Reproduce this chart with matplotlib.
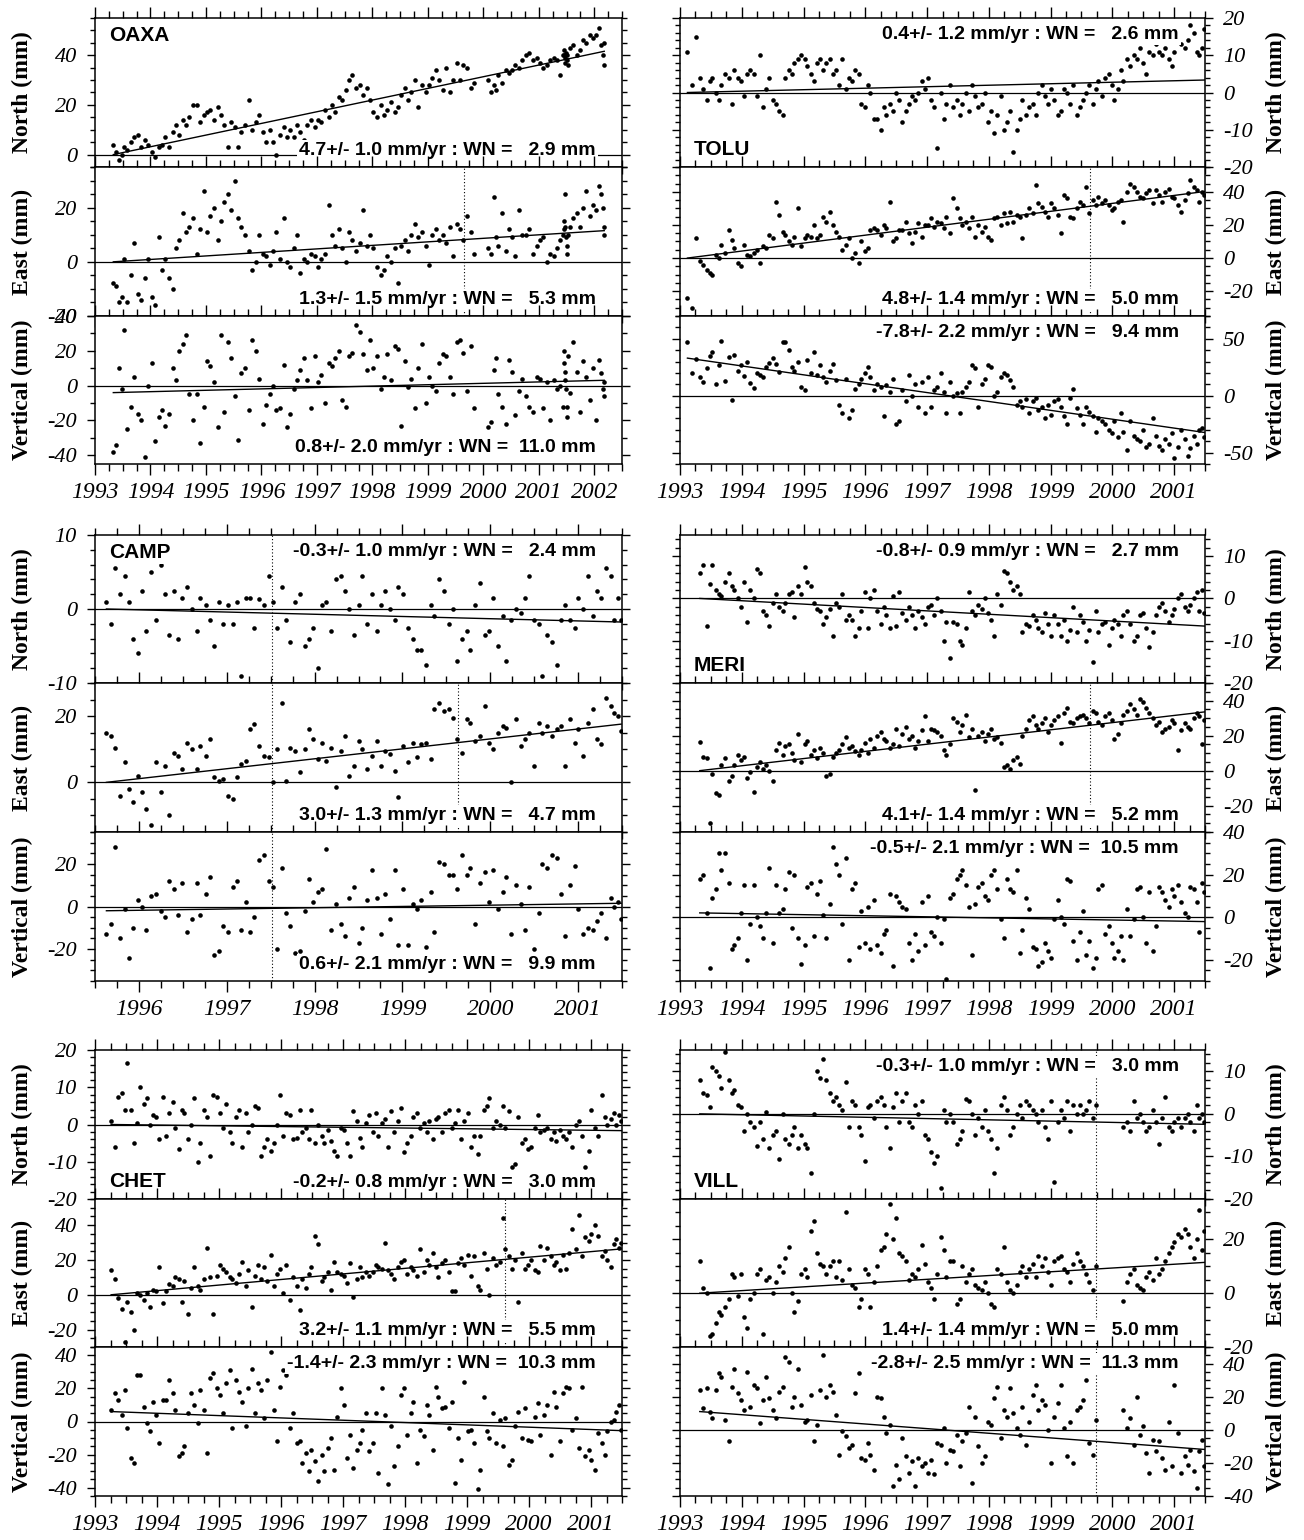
import numpy as np
import matplotlib.pyplot as plt
from matplotlib.ticker import MultipleLocator, FormatStrFormatter

plt.rcParams['font.family'] = ['Liberation Serif', 'DejaVu Serif']
plt.rcParams['font.style'] = 'italic'
plt.rcParams['axes.unicode_minus'] = False

nan = np.nan

# ---------------- OAXA (own epochs) ----------------
oaxa_t = [1993.33, 1993.38, 1993.43, 1993.48, 1993.53, 1993.58, 1993.64, 1993.70,
          1993.77, 1993.83, 1993.90, 1993.96, 1994.02, 1994.08, 1994.15, 1994.21,
          1994.27, 1994.33, 1994.40, 1994.46, 1994.52, 1994.58, 1994.64, 1994.70,
          1994.77, 1994.83, 1994.90, 1994.96, 1995.02, 1995.08, 1995.15, 1995.21,
          1995.27, 1995.33, 1995.40, 1995.46, 1995.52, 1995.58, 1995.64, 1995.70,
          1995.77, 1995.83, 1995.90, 1995.96, 1996.02, 1996.08, 1996.15, 1996.21,
          1996.27, 1996.33, 1996.40, 1996.46, 1996.52, 1996.58, 1996.64, 1996.70,
          1996.77, 1996.83, 1996.90, 1996.96, 1997.02, 1997.08, 1997.15, 1997.21,
          1997.27, 1997.33, 1997.40, 1997.46, 1997.52, 1997.58, 1997.64, 1997.70,
          1997.77, 1997.83, 1997.90, 1997.96, 1998.02, 1998.08, 1998.15, 1998.21,
          1998.27, 1998.33, 1998.40, 1998.46, 1998.52, 1998.58, 1998.64, 1998.70,
          1998.77, 1998.83, 1998.90, 1998.96, 1999.02, 1999.08, 1999.15, 1999.21,
          1999.27, 1999.33, 1999.40, 1999.46, 1999.52, 1999.58, 1999.64, 1999.70,
          1999.77, 1999.83,
          2000.08, 2000.13, 2000.19, 2000.23, 2000.27, 2000.33, 2000.40, 2000.46,
          2000.52, 2000.58, 2000.64, 2000.70, 2000.77, 2000.83, 2000.90, 2000.96,
          2001.02, 2001.08, 2001.15, 2001.21, 2001.27, 2001.33, 2001.38, 2001.43,
          2001.45, 2001.46, 2001.47, 2001.48, 2001.49, 2001.50, 2001.51, 2001.52,
          2001.56, 2001.62, 2001.68, 2001.74, 2001.80, 2001.86, 2001.92, 2001.97,
          2002.03, 2002.08, 2002.12, 2002.15, 2002.17, 2002.18]
oaxa_n = [4, 1, -2, 0, 3, 2, 5, 7, 8, 3, 6, 4, 1, -1, 3, 4,
          7, 3, 9, 12, 8, 14, 12, 15, 20, 20, 13, 16, 17, 18, 14, 19,
          16, 12, 3, 13, 11, 3, 9, 12, 22, 10, 13, 16, 9, 5, 10, 5,
          0, 8, 11, 7, 10, 7, 12, 9, 6, 12, 14, 11, 14, 13, 18, 15,
          20, 17, 23, 22, 26, 30, 32, 27, 28, 24, 27, 22, 17, 15, 20, 16,
          18, 21, 17, 19, 24, 27, 22, 25, 30, 19, 28, 25, 28, 31, 34, 30,
          26, 35, 25, 30, 37, 30, 36, 35,
          27, 29,
          30, 25, 28, 26, 32, 29, 34, 33, 34, 36, 35, 38, 40, 41, 38, 39,
          37, 35, 36, 38, 39, 38, 32, 40,
          42, 40, 37, 39, 41, 38, 40, 36,
          43, 44, 40, 42, 46, 45, 48, 47,
          48, 51, 44, 40, 36, 45]
oaxa_e = [-8, -9, -15, -13, 1, -15, -5, 7, -12, -14, -6, 1, -13, -16, 9, -3,
          1, -6, -10, 5, 8, 18, 11, 13, 16, 3, 12, 26, 11, 17, 20, 8,
          15, 22, 25, 19, 30, 16, 13, 10, 4, -3, 0, 10, 3, 2, -1, 4,
          11, 1, 16, 0, -2, 5, 10, -4, 1, 0, 3, 2, -2, 1, 3, 21,
          10, 6, 12, 5, 0, 11, 8, 4, 7, 19, 6, 10, 5, -2, -5, -3,
          2, 0, 5, -8, 6, 8, 4, 10, 14, 9, 11, 6, -1, 10, 12, 8,
          10, 7, 13, 2, 14, 12, 8, 17,
          11, 3,
          5, 3, 24, 9, 6, 18, 4, 12, 9, 2, 19, 10, 10, 12, 3, 6,
          8, 9, 0, 3, 2, 5, 8, 10,
          12, 15, 25, 13, 9, 3, 6, 10,
          13, 16, 18, 13, 20, 26, 17, 21,
          19, 28, 25, 20, 13, 10]
oaxa_u = [-38, -34, 10, -2, 32, -25, -12, 5, -16, -20, -41, 0, 13, -32, -18, -14,
          -23, -16, 10, 3, 20, 24, 29, -5, -20, -5, -33, -12, 14, 11, 2, -24,
          29, -15, 25, 16, -6, -31, 7, 10, -14, 26, 20, 4, -22, -11, -5, 0,
          -14, -13, 12, -24, -16, -2, 3, 9, 16, 3, -13, 17, 2, 6, -10, 13,
          11, 16, 20, -8, -12, 17, 19, 35, 31, 18, 9, 26, 10, 17, -2, 5,
          18, 3, 23, 21, -23, 14, -1, 4, -13, 10, 24, -10, 5, 0, -3, 13,
          18, 17, 5, -5, 25, 26, 19, -3,
          23, -13,
          -24, -21, 9, 16, -5, -12, -22, 15, 8, -17, -3, 4, -6, -12, -15, 5,
          4, -13, 2, -20, 3, -2, 0, -12,
          20, 13, 8, 3, -2, -12, -18, 17,
          -4, 25, 8, -15, 14, 5, -8, 10,
          -20, 15, 7, -2, -6, 2]

# ---------------- common epochs for TOLU, MERI, CHET, VILL, CAMP ----------------
t_full = [1993.12, 1993.19, 1993.26,
          1993.32, 1993.37, 1993.43, 1993.48, 1993.52, 1993.58, 1993.63, 1993.67,
          1993.73, 1993.79, 1993.84, 1993.88, 1993.94, 1993.99, 1994.04, 1994.09,
          1994.14, 1994.20, 1994.25, 1994.29, 1994.35, 1994.40, 1994.44, 1994.50,
          1994.55, 1994.60, 1994.66, 1994.70, 1994.76, 1994.81, 1994.85, 1994.91,
          1994.96, 1995.02, 1995.06, 1995.12, 1995.17, 1995.21, 1995.27, 1995.32,
          1995.37, 1995.43, 1995.47, 1995.53, 1995.58, 1995.63, 1995.68, 1995.73,
          1995.78, 1995.84, 1995.89, 1995.93, 1995.99, 1996.04, 1996.08, 1996.14,
          1996.19, 1996.25, 1996.30, 1996.34, 1996.40, 1996.45, 1996.49, 1996.55,
          1996.60, 1996.66, 1996.70, 1996.76, 1996.81, 1996.85, 1996.91, 1996.96,
          1997.01, 1997.07, 1997.12, 1997.16, 1997.22, 1997.27, 1997.31, 1997.37,
          1997.42, 1997.48, 1997.53, 1997.57, 1997.63, 1997.68, 1997.72, 1997.78,
          1997.83, 1997.89, 1997.94, 1997.98, 1998.04, 1998.09, 1998.13, 1998.19,
          1998.24, 1998.30, 1998.35, 1998.39, 1998.45, 1998.50, 1998.54, 1998.60,
          1998.65, 1998.71, 1998.76, 1998.80, 1998.86, 1998.91, 1998.95, 1999.01,
          1999.06, 1999.12, 1999.17, 1999.21, 1999.27, 1999.32, 1999.36, 1999.42,
          1999.47, 1999.53, 1999.58, 1999.62, 1999.68, 1999.73, 1999.77, 1999.83,
          1999.88, 1999.94, 1999.99, 2000.03, 2000.09, 2000.14, 2000.18, 2000.24,
          2000.29, 2000.35, 2000.40, 2000.44, 2000.50, 2000.55, 2000.59, 2000.65,
          2000.70, 2000.76, 2000.81, 2000.85, 2000.91, 2000.96, 2001.00, 2001.06,
          2001.11, 2001.17, 2001.22, 2001.26, 2001.32, 2001.37, 2001.41, 2001.45, 2001.49]

tolu_n = [11, 2, 15,
          4, 1, -2, 3, 4, 0, -2, 2,  5, 4, -3, 6, 4, 3, -1, 5,
          6, 5, -1, 10, -4, 1, 4, -2,  -3, -5, -6, 4, 6, 5, 8, 9,
          10, 9, 7, 5, 3, 8, 9, 6,  8, 9, 5, 6, 2, 9, 1, 4,
          3, 6, 5, -3, -4, 2, 0, -7,  -7, -10, -4, -6, -3, -5, 0, -2,
          -8, -5, -3, -1, -2, 0, 3, 1,  4, -2, -4, -15, 0, -7, -3, 2,
          -4, -2, -6, -3, 0, -5, 2, -1,  -4, -3, 0, -8, -5, -11, -6, -1,
          -10, -8, -5, -16, -10, -7, -2, -6,  -4, -3, -6, 0, 2, -1, -3, 1,
          -2, -6, -5, 1, 0, -3, 2, -6,  -4, -2, 0, 2, -3, 1, 3, -1,
          4, 5, 2, -2, 1, 6, 3, 9,  7, 10, 9, 12, 8, 5, 11, 10,
          13, 11, 10, 12, 9, 7, 11, 14,  13, 12, 14, 18, 16, 11, 10, 12, 17]
tolu_e = [-24, -30, 12,
          -2, -4, -7, -9, -10, 2, 0, 8,  3, 17, 11, 6, -3, -5, 8, 2,
          1, 3, 5, -3, 7, 6, 14, 12,  34, 26, 16, 14, 10, 8, 13, 30,
          7, 12, 14, 13, 20, 12, 14, 25,  22, 28, 20, 16, 13, 5, 8, 12,
          0, 3, -3, 10, 4, 6, 17, 18,  17, 14, 20, 18, 34, 10, 12, 17,
          17, 22, 15, 9, 16, 21, 13, 20,  20, 24, 19, 22, 21, 18, 25, 15,
          36, 30, 24, 20, 22, 18, 25, 13,  20, 16, 19, 13, 11, 24, 25, 20,
          27, 21, 28, 22, 26, 25, 12, 26,  30, 27, 44, 33, 31, 28, 25, 33,
          30, 26, 15, 38, 36, 25, 24, 30,  34, 32, 43, 27, 35, 32, 37, 33,
          35, 32, 29, 30, 34, 35, 22, 40,  45, 43, 40, 37, 36, 39, 41, 33,
          41, 38, 34, 40, 42, 37, 36, 32,  28, 35, 39, 47, 43, 41, 34, 40, 38]
tolu_u = [47, 20, 32,
          16, 12, 24, 35, 38, 10, 27, 48,  13, 34, -4, 36, 22, 27, 17, 30,
          11, 7, 20, 18, 16, 25, 29, 33,  28, 21, 47, 47, 40, 25, 22, 30,
          8, 5, 31, 20, 38, 18, 27, 16,  12, 22, 28, 14, -8, -15, 15, -20,
          -13, 6, 10, 15, 20, 25, 16, 5,  10, 8, -18, 9, 3, 15, -25, -22,
          5, -5, 18, 0, 10, -10, 12, -15,  16, -10, 5, 8, 20, 3, -15, 12,
          0, 2, -15, 3, 8, 12, 27, 24,  -10, 10, 15, 27, 25, 0, 3, 16,
          20, 18, 14, 8, -8, -5, -10, -3,  -15, -5, -2, -13, -10, -20, -8, -17,
          -5, -3, -10, -18, -25, -2, 6, -11,  -17, -25, -10, -14, -18, -32, -20, -22,
          -25, -30, -33, -22, -36, -15, -32, -48,  -22, -35, -38, -40, -30, -45, -42, -20,
          -35, -44, -48, -38, -42, -33, -55, -45,  -30, -38, -53, -46, -35, -42, -30, -28, -36]

meri_n = [nan, nan, nan,
          6, 8, -6.5, 3.5, 8, 2, 1, 0.5,  4, 6, 3, 2, 0, -2, 4, -5.5,
          2, 0, 7, 6, -3, -4, -6.5, -1,  1, -2, -3, -1, 1, 1.5, -4.5, 3,
          1, 7.5, 4, 3, -1, -2.5, -3, -6,  -4.5, -2.5, -9, -1, -2, 1, -5, -4,
          -5, -9, -7, -3, 1.5, -7, 0, 2,  -3, -6, -2, -4, -7, 0.5, -6.5, 1.5,
          -3.5, -5, -2, -4, -7, -3, -4.5, -6,  -2, -1.5, -4, 0, -3, -10, -5.5, -14,
          -5.5, -6, -10, -11, -7, 1.5, -3, -4,  -1.5, -2.5, 0, -3.5, -5, -9, 1, -1.5,
          6.5, 6, 4, 2, 3, 1, -8, -6,  -6.5, -4, -5, -7, -8, -3.5, -6, -9,
          -4, -6, -9, -5, -10, -7.5, -2, -8,  -4, -5.5, -10, -7.5, -15, -3, -8, -6,
          -5.5, -11, -7, -5, -6, -9, -4, -3,  -6, -10, -9, -4, -3.5, -7, -11.5, -8,
          -4, -2, -1, -3, -5.5, -4, -2.5, 0,  1, -2, -3, -1.5, 0, 1.5, -3, 2, -3.5]
meri_e = [nan, nan, nan,
          16.5, 8, 7, -30, -2, -13, -14, 3,  7, -6, -3, 3, 9, 6, 8, -4,
          -1, -12, 2, 5, 1, 3, 0, -6,  12, 16, 9, 14, 15, 10, 6, 21,
          5, 15, 17, 9, 12, 7, 13, 10,  -3, -2, 8, 10, 12, 15, 19, 13,
          14, 11, 9, 12, 16, 10, 18, 13,  20, 22, 18, 17, 13, 15, 24, 14,
          21, 25, 18, 20, 13, 17, 23, 31,  17, 24, 23, 22, 20, 12, 9, 15,
          30, 28, 22, 26, 32, 19, 24, -11,  20, 22, 17, 21, 24, 18, 19, 16,
          2, 3, 1, 6, 8, 4, 20, 24,  29, 31, 26, 24, 27, 30, 22, 26,
          29, 31, 16, 33, 36, 28, 27, 30,  31, 32, 30, 27, 34, 33, 28, 26,
          31, 33, 29, 18, 21, 27, 32, 34,  38, 35, 32, 41, 39, 36, 33, 30,
          26, 28, 22, 24, 25, 29, 27, 12,  23, 27, 25, 24, 30, 33, 31, 15, 29]
meri_u = [nan, nan, nan,
          18, 20, 2, -24, 9, 13, 30, 22,  30, 16, -15, -13, -10, 2, 15, -20,
          -3, 15, 0, -4, -10, 2, 23, -12,  15, 2, 4, 13, 21, -5, 20, -10,
          -22, -13, 14, 16, -9, 11, 17, 1,  -10, 6, 33, 25, 20, -3, 28, -20,
          13, 16, -14, 3, -12, 5, -15, 8,  -13, -17, -8, -6, 11, -23, 10, 7,
          5, 4, -12, -20, -8, -16, 7, -13,  10, -7, -9, 0, -12, -1, -29, 9,
          11, 18, 20, 22, 15, 5, -18, 6,  14, 16, 10, 8, 20, 22, 13, -1,
          -10, 18, 13, 12, 22, -17, -6, 9,  4, -14, -15, -23, -21, -12, -16, -19,
          -1, 8, 0, -3, 18, 17, -11, -20,  -7, 3, -18, -11, -24, -19, 13, 15,
          -8, -4, -12, -19, -16, -9, -20, 4,  -9, -1, 13, 14, 0, -12, 12, -16,
          -4, 14, 12, 8, 5, 13, 10, 15,  7, 2, 0, 14, 13, 7, -7, 16, 12]

chet_n = [nan, nan, 1,
          -6, 7.5, 8.5, 4, 16.5, 4, -5, 0.5,  10, 5.5, 7, 0, 2.5, 2, -4, 7.5,
          -3, 3, 6, -1, -6.5, 4, 3, -4,  0, 7, -10, -5, 4, 2, -8.5, 8,
          7.5, 3, -1, 5.5, -2, -5, 2, 4,  -6, 3, -2, 0, 5, 4.5, -8.5, -6,
          -4, -7, -5, 0, 8, -3, 3, 2.5,  -4, -3.5, 4, -2, -1, -4, 4, -5,
          0, -3, -5, -1.5, -4.5, -7, -8.5, -1,  -1.5, -5, -8.5, 3.5, 1, -3.5, -6, 0.5,
          2.5, -2, 3, -3, 0.5, 1.5, -6, 3.5,  -2, 1, 4.5, -7.5, -5, -3, 2, 3,
          -1, 0.5, -2, 1, -4, 1.5, 2, -2,  3, 4, -1, 0.5, 4, -4, 1, 3,
          -6, -3, -8, -3, 4, 5, 7, -1,  1, 0, 5, -1, 3.5, -11.5, -10.5, 2,
          -5, -4, -6.5, -6, -1, 2.5, -2, -1.5,  -1, -4, -2, -4.5, -1.5, -3, -4, -2,
          -6, 0, 1, -3, -11.5, -7, 4, -1,  -3, 8, 2, 0, 1.5, 3, 0, 2.5, 1]
chet_e = [nan, nan, 14,
          9, -2, -8, -27, -4, -10, -20, 1,  0, -3, 1, -7, 3, 2, 16, -5,
          2, 6, 5, 10, 9, -4, 8, -11,  4, 16, 5, 3, 9, 27, 10, -11,
          11, 17, 15, 13, 10, 9, 7, 12,  19, 5, 14, -7, 11, 17, 9, 16,
          8, 23, 5, 12, 15, 1, 17, -3,  10, 5, -9, 9, 4, 12, 16, 34,
          29, 8, 10, 13, 3, 19, 13, 12,  11, 7, 18, -1, 9, 16, 10, 13,
          11, 13, 17, 16, 15, 30, 14, 12,  9, 16, 19, 20, 12, 16, 14, 11,
          26, 13, 20, 17, 24, 16, 10, 18,  20, 13, 2, 2, 18, 21, 17, 23,
          11, 22, 5, 3, 24, 15, 0, 21,  17, 19, 44, 26, 22, 15, 20, -4,
          24, 15, 17, 20, 14, 13, 28, 20,  27, 22, 17, 19, 14, 23, 15, 24,
          38, 26, 46, 22, 33, 31, 35, 40,  34, 22, 25, 20, 16, 29, 32, 27, 30]
chet_u = [nan, nan, 7,
          17, 13, 4, 19, -4, -22, -25, 28,  28, 9, -1, -6, 12, 4, -13, 13,
          13, 25, 17, 7, -21, -19, -15, 5,  17, 10, -1, 19, 7, -19, 26, 29,
          20, 16, 5, 23, 31, -4, 25, 18,  12, -3, 20, 32, 5, 23, 19, 2,
          25, 42, 7, -12, 21, 31, 28, -4,  5, -13, -12, -25, -19, -30, -17, -24,
          -36, -20, -30, -16, -10, -29, 3, 20,  10, -22, -8, -28, -17, -13, -5, 5,
          -18, -13, 5, -31, 20, 4, -38, -3,  -27, -15, 16, 20, -8, 5, 12, -25,
          -5, -9, 10, 4, -17, 21, 15, 8,  9, -4, 12, -37, -10, -23, 24, -6,
          -5, -13, -41, -29, 15, -6, -10, 5,  -13, 1, -15, 2, -26, -23, -3, 6,
          -10, 8, -11, -12, 3, 11, -8, 4,  10, -20, 18, 9, -12, 17, 21, 20,
          -5, 2, -16, 21, -21, -17, -23, -29,  -7, -13, -20, -6, 0, 1, 6, 10, -5]

vill_n = [nan, nan, nan,
          8, 5, 4.5, 1.5, 11, 10, 9, 6,  14.5, 8, 5, 5.5, 2, 1.5, -4, 0,
          -2, -3, -7.5, -2, -6, 0.5, -8, -5,  -4, -10.5, 0, -6, -7, -5, -3, -8,
          -5, -7, -8, -14, 0, 10, 8.5, 13,  8, 5, 3, 4, 2, 1, 7.5, -3,
          3, 2, -3, -5, -11, 1.5, 2, -1,  3, 4, 2, -3, -8, 1.5, 5, -2,
          3, 5, -2, -3, 2, 0, 3, -5,  -6, -9, -11.5, -10, -17.5, 1, -2, 0,
          -2, -7, -6, -4, 3.5, 3, 0, -5,  -1, -3, 1, -4, -6, -14, -8, 2,
          4, 1, -5, -3, 0, 2, -1, 3,  2, 1, 0, -2, 1, -3, -6, 3,
          -16, -2, 1, -1, 3, -4, 2, 0,  2, 0, 1, 3, -1, 2, nan, nan,
          nan, nan, nan, nan, nan, nan, -3, -2,  -4, 3, -1, 0, -2, -4, -3, 1,
          -2, -7, -1, 4, -3, -4, -2, -1,  -3, -1, 0, -2, -4, 2, -1, 0, -2]
vill_e = [nan, nan, nan,
          12, 2, 0, -16, -15, -11, -7, -8,  -5, -2, 7, 6, -1, 7, -9, -13,
          -2, 0, 7, 9, -15, 5, 6, 0,  4, 10, 8, 13, 17, 0, -7, -3,
          7, 9, 6, 23, 27, 15, 11, 10,  7, 10, 12, 6, 12, 5, 30, 9,
          3, 2, -5, -2, 9, 7, -5, 4,  10, 16, 17, 22, 33, 20, 28, 15,
          14, 12, 5, 7, 6, 9, 18, 11,  4, 2, -2, 7, 21, 16, 6, 12,
          12, -4, -2, 10, 4, 7, 9, 3,  2, 1, 4, 0, -4, -5, 9, 7,
          17, 4, 1, 0, 3, 8, 10, 6,  9, 11, 6, 14, 10, 13, 8, 3,
          12, 13, 14, 9, 8, 4, 11, 15,  12, 10, 7, 4, 1, 10, nan, nan,
          nan, nan, nan, nan, nan, nan, -3, 4,  7, 9, 3, 2, 1, 6, 8, 5,
          13, 7, 9, 12, 15, 17, 19, 22,  21, 24, 22, 17, 13, 20, 31, 16, 23]
vill_u = [nan, nan, nan,
          24, 13, 25, 11, 7, 24, 34, 32,  6, -7, 26, 37, 22, 18, 12, 35,
          14, 27, 25, 4, 18, 32, 19, 12,  7, 23, 26, 44, 41, 14, 20, 37,
          15, 5, 6, 21, -7, 3, 24, 45,  20, 27, 23, 9, -15, -1, -4, -11,
          -9, 22, 34, -17, -18, -8, -15, -24,  20, 19, 8, -2, 3, -34, -21, -30,
          -5, -16, -26, -19, -34, -17, -22, -20,  -26, -18, -27, -8, -9, 1, -20, -12,
          -13, -3, -22, -7, -2, 14, -32, 8,  -10, -20, -16, 5, 3, 19, 26, -5,
          12, 8, 25, 10, 1, -3, 14, -9,  5, 21, 27, 12, 18, 15, 0, -20,
          8, 16, 27, 1, -16, 5, -20, 12,  14, 18, 30, -8, -15, 6, nan, nan,
          nan, nan, nan, nan, nan, nan, 12, 1,  7, -9, 20, -3, 2, -14, -26, -6,
          -13, -7, -17, -24, 5, -22, 27, -2,  -26, -16, -21, -12, -25, -35, -13, -6, -22]

# CAMP: epochs of t_full from 1995.6 on
camp_n = [1, -2, 5.5,
          2, 4.5, 1, -4, -6, 2.5, -3, 5,  -1.5, 6, 2, -3.5, 2.5, -4, 1.5, 3,
          0, -3, 1.5, 0.5, -1.5, -5, 1, -2,  0.5, -2, 1, -9, 1.5, 1.5, -2.5, 1.3,
          0.5, 4.5, 1, -2.5, 3, -1.5, -4.5, 1,  2, -5, -4, -2.5, -8, 0.5, 1, -3,
          4, 4.5, 2.5, 0, -3.5, 0.5, 4.5, -2,  2, -3, 0.5, 2.5, 0, -1.5, 3, 2,
          -2.5, -4, -5.5, -5.5, -7.5, 0.5, -1, 4,  2.5, -2, 0, -7, -4, -3, -5.5, 0.5,
          3.5, -3.5, -3, 1.5, -5, -1, -7, -1.5,  0, -0.5, 1.5, 4.5, -1.5, -2, -9, -3.5,
          -4.5, -7.5, -1.5, 0.5, -1.5, -2.5, 1.5, 0,  4.5, -1, 2.5, 1.5, 5.5, 4.5, -1.5, 1.5, -1.5]
camp_e = [15, 14, 10.5,
          -4, 6, -2, -6, 2, -3, -8, -13,  6, -3, 5, -10, 9, 8, 4, 12,
          10, 4, 11, 8, 13, 1.5, 0.5, 1,  -4, -5, 1.5, 5.5, 6.5, 16, 17.5, 11,
          8, 7.5, 0, 10, 24, 0.5, 10.5, 9.5,  3, 10, 16, 13, 7, 12, 6.5, 10.5,
          -1.5, 9.5, 14, 2, 5, 12.5, 10, 4,  8, 12.5, 5, 9.5, 8.5, 3.5, -4.5, 11,
          6, 12, 7.5, 11.5, 12, 7, 22, 24,  21.5, 22, 19.5, 13, 9, 19, 18, 12.5,
          14, 23, 12, 10, 15, 17, 16.5, 0,  19, 11, 13, 15, 5, 18, 15, 17,
          14, 16, 17, 5, 19, 12, 16, 8,  18, 22, 13, 11.5, 25.5, 23, 21, 20, 15.5]
camp_u = [-13, -8, 28,
          -15, -1, -24, -10, 3, 0, -11, 5,  6, -2, -5, 12, 8, -4, 11, -12,
          -6, 11, -4, 6, 14, -23, -21, -9,  -12, 9, 12, -11, 2, -12, -5, 22,
          24, 12, 9, -20, 18, -3, -9, -22,  -21, -2, 13, 2, 7, 8, 27, -11,
          1, -8, -14, 4, 9, -17, -10, 3,  17, 4, -13, 6, -6, 17, -18, 8,
          -18, 1, -1, 3, -19, 7, -12, 21,  20, 15, 15, 8, 24, 15, 18, -8,
          11, 16, 2, 17, -1, 7, 14, -13,  10, 1, -11, 9, -20, -3, 20, 18,
          24, 23, 6, -14, 10, 19, -1, -13,  -10, -11, -7, -3, -15, 4, 0, 2, -6]

# fitted rate, its sigma and white-noise amplitude (N, E, U), and fit value at first epoch
oaxa_fit = [(4.7, 1.0, 2.9), (1.3, 1.5, 5.3), (0.8, 2.0, 11.0)]
tolu_fit = [(0.4, 1.2, 2.6), (4.8, 1.4, 5.0), (-7.8, 2.2, 9.4)]
camp_fit = [(-0.3, 1.0, 2.4), (3.0, 1.3, 4.7), (0.6, 2.1, 9.9)]
meri_fit = [(-0.8, 0.9, 2.7), (4.1, 1.4, 5.2), (-0.5, 2.1, 10.5)]
chet_fit = [(-0.2, 0.8, 3.0), (3.2, 1.1, 5.5), (-1.4, 2.3, 10.3)]
vill_fit = [(-0.3, 1.0, 3.0), (1.4, 1.4, 5.0), (-2.8, 2.5, 11.3)]
oaxa_start = [0, 0, -4]
tolu_start = [0, 0, 33]
camp_start = [0, 0, -2]
meri_start = [0, 0, 2]
chet_start = [0, 0, 6]
vill_start = [0, 0, 11]

t_full_arr = np.array(t_full)
t_camp = t_full_arr[t_full_arr >= 1995.6]

stations = [
    dict(name='OAXA', col=0, grp=0, t=oaxa_t, vals=(oaxa_n, oaxa_e, oaxa_u),
         fit=oaxa_fit, start=oaxa_start, xlim=(1993, 2002.5),
         ylim=[(-5, 55), (-20, 35), (-45, 40)], major=[20, 20, 20], minor=[5, 5, 10],
         txt='bbb', name_at='t', breaks=[(1999.65, (1,))]),
    dict(name='TOLU', col=1, grp=0, t=t_full, vals=(tolu_n, tolu_e, tolu_u),
         fit=tolu_fit, start=tolu_start, xlim=(1993, 2001.5),
         ylim=[(-20, 20), (-35, 55), (-60, 70)], major=[10, 20, 50], minor=[2, 5, 10],
         txt='tbt', name_at='b', breaks=[(1999.63, (1,))]),
    dict(name='CAMP', col=0, grp=1, t=t_camp, vals=(camp_n, camp_e, camp_u),
         fit=camp_fit, start=camp_start, xlim=(1995.5, 2001.5),
         ylim=[(-10, 10), (-15, 30), (-35, 35)], major=[10, 20, 20], minor=[2, 5, 5],
         txt='tbb', name_at='t', breaks=[(1997.52, (0, 1, 2)), (1999.63, (1,))]),
    dict(name='MERI', col=1, grp=1, t=t_full, vals=(meri_n, meri_e, meri_u),
         fit=meri_fit, start=meri_start, xlim=(1993, 2001.5),
         ylim=[(-20, 15), (-35, 50), (-30, 40)], major=[10, 20, 20], minor=[2, 5, 5],
         txt='tbt', name_at='b', breaks=[(1999.63, (1,))]),
    dict(name='CHET', col=0, grp=2, t=t_full, vals=(chet_n, chet_e, chet_u),
         fit=chet_fit, start=chet_start, xlim=(1993, 2001.5),
         ylim=[(-20, 20), (-30, 55), (-45, 45)], major=[10, 20, 20], minor=[2, 5, 5],
         txt='bbt', name_at='b', breaks=[(1999.62, (1,))]),
    dict(name='VILL', col=1, grp=2, t=t_full, vals=(vill_n, vill_e, vill_u),
         fit=vill_fit, start=vill_start, xlim=(1993, 2001.5),
         ylim=[(-20, 15), (-20, 35), (-40, 50)], major=[10, 20, 20], minor=[2, 5, 5],
         txt='tbt', name_at='b', breaks=[(1999.73, (0, 1, 2))]),
]

comp_labels = ['North (mm)', 'East (mm)', 'Vertical (mm)']

W, H = 1304, 1540
group_px = [(18, 167, 316, 464), (535, 683, 832, 981), (1050, 1199, 1347, 1496)]
col_px = [(95, 622), (680, 1205)]
sans = ['Liberation Sans Narrow', 'Liberation Sans', 'DejaVu Sans']

fig = plt.figure(figsize=(W / 100, H / 100), dpi=100)

for st in stations:
    x0, x1 = col_px[st['col']]
    edges = group_px[st['grp']]
    t = np.asarray(st['t'], float)
    for k in range(3):
        top, bot = edges[k], edges[k + 1]
        ax = fig.add_axes([x0 / W, 1 - bot / H, (x1 - x0) / W, (bot - top) / H])
        y = np.asarray(st['vals'][k], float)
        ax.plot(t, y, 'o', ms=3.3, mew=0, color='black', zorder=3)
        ax.axhline(0, color='black', lw=0.9, zorder=2)
        ok = ~np.isnan(y)
        tt = np.array([t[ok][0], t[ok][-1]])
        rate, sig, wn = st['fit'][k]
        ax.plot(tt, st['start'][k] + rate * (tt - tt[0]), color='black', lw=1.0, zorder=2)
        for tb, panels in st['breaks']:
            if k in panels:
                ax.axvline(tb, color='black', lw=0.8, ls=(0, (1, 2)), zorder=1)

        ax.set_xlim(*st['xlim'])
        ax.set_ylim(*st['ylim'][k])
        ax.xaxis.set_major_locator(MultipleLocator(1))
        ax.xaxis.set_minor_locator(MultipleLocator(0.25))
        ax.yaxis.set_major_locator(MultipleLocator(st['major'][k]))
        ax.yaxis.set_minor_locator(MultipleLocator(st['minor'][k]))
        ax.xaxis.set_major_formatter(FormatStrFormatter('%d'))
        ax.yaxis.set_major_formatter(FormatStrFormatter('%d'))
        ax.tick_params(which='both', direction='out', top=True, bottom=True,
                       left=True, right=True, width=1.0, colors='black')
        ax.tick_params(axis='x', which='major', length=8, pad=5)
        ax.tick_params(axis='x', which='minor', length=5)
        ax.tick_params(axis='y', which='major', length=6, pad=7)
        ax.tick_params(axis='y', which='minor', length=3.5)
        ax.tick_params(labelsize=16, labelbottom=(k == 2), labeltop=False,
                       labelleft=(st['col'] == 0), labelright=(st['col'] == 1))
        ax.tick_params(axis='x', labelsize=17)
        for s in ax.spines.values():
            s.set_linewidth(1.1)

        s = f"{rate:.1f}+/- {sig:.1f} mm/yr : WN = {wn:5.1f} mm"
        ypos = 0.89 if st['txt'][k] == 't' else 0.11
        ax.text(0.95, ypos, s, transform=ax.transAxes, ha='right', va='center',
                fontsize=14, fontweight='bold', style='normal', family=sans,
                bbox=dict(facecolor='white', edgecolor='none', pad=1.5), zorder=5)
        if k == 0:
            ny = 0.88 if st['name_at'] == 't' else 0.115
            ax.text(0.026, ny, st['name'], transform=ax.transAxes, ha='left', va='center',
                    fontsize=15, fontweight='bold', style='normal', family=sans,
                    bbox=dict(facecolor='white', edgecolor='none', pad=1.0), zorder=5)
        lx = -0.1385 if st['col'] == 0 else 1.137
        ax.text(lx, 0.5, comp_labels[k], transform=ax.transAxes, rotation=90,
                ha='center', va='center', fontsize=17, fontweight='bold', style='normal')

fig.savefig('out.png', dpi=100)
